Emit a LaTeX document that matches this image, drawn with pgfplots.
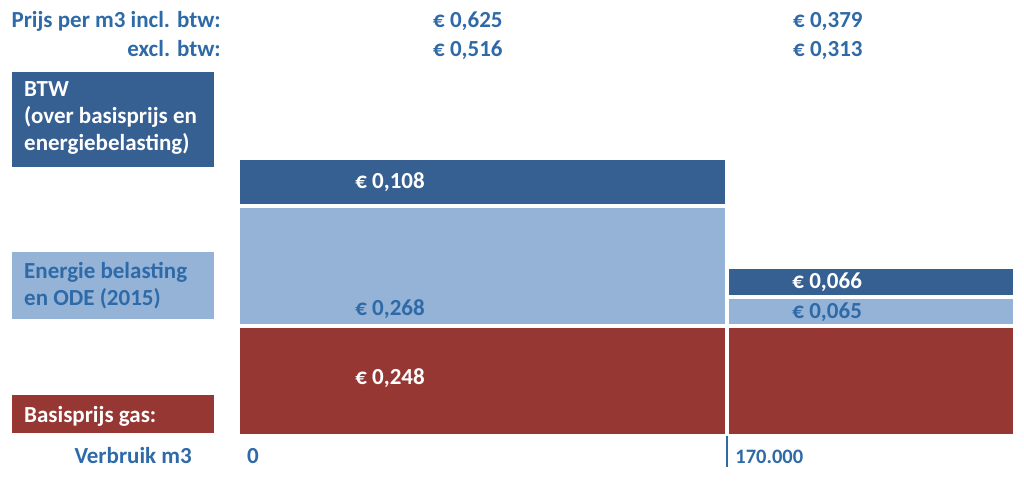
\documentclass[border=0pt]{standalone}
\usepackage{pgfplots}
\pgfplotsset{compat=1.18}
\usepackage{fontspec}
\setmainfont{Carlito}

\definecolor{btwblue}{RGB}{55,96,146}
\definecolor{ebblue}{RGB}{149,179,215}
\definecolor{gasred}{RGB}{150,55,52}
\definecolor{txtblue}{RGB}{46,106,168}

\begin{document}
\begin{tikzpicture}[font=\bfseries\fontsize{23}{27}\selectfont,
                    every node/.style={inner sep=0pt}]
\useasboundingbox (0,0) rectangle (1024pt,485pt);

% price rows at the top
\node[anchor=base east, txtblue] at (221pt,457pt) {Prijs per m3 incl. btw:};
\node[anchor=base east, txtblue] at (221pt,428pt) {excl. btw:};
\node[anchor=base west, txtblue] at (433pt,457pt) {€ 0,625};
\node[anchor=base west, txtblue] at (433pt,428pt) {€ 0,516};
\node[anchor=base west, txtblue] at (793pt,457pt) {€ 0,379};
\node[anchor=base west, txtblue] at (793pt,428pt) {€ 0,313};

% legend boxes on the left
\fill[btwblue] (12pt,318pt) rectangle (214pt,413pt);
\node[anchor=base west, white] at (24pt,388pt) {BTW};
\node[anchor=base west, white] at (24pt,361pt) {(over basisprijs en};
\node[anchor=base west, white] at (24pt,334pt) {energiebelasting)};

\fill[ebblue] (12pt,166pt) rectangle (214pt,233pt);
\node[anchor=base west, txtblue] at (24pt,207pt) {Energie belasting};
\node[anchor=base west, txtblue] at (24pt,180pt) {en ODE (2015)};

\fill[gasred] (12pt,52pt) rectangle (214pt,90pt);
\node[anchor=base west, white] at (24pt,63pt) {Basisprijs gas:};

% x axis text
\node[anchor=base east, txtblue] at (192pt,22pt) {Verbruik m3};
\node[anchor=base west, txtblue] at (247pt,22pt) {0};

\begin{axis}[
    at={(238pt,49pt)}, anchor=origin,
    scale only axis, width=777pt, height=278pt,
    xmin=0, xmax=270000,
    ymin=0, ymax=0.624,
    hide axis, clip=false,
    seg/.style={draw=white, line width=4pt}
]
% 0 - 170.000 m3
\addplot[seg, fill=gasred] coordinates {(0,0) (170000,0) (170000,0.248) (0,0.248)} -- cycle;
\addplot[seg, fill=ebblue] coordinates {(0,0.248) (170000,0.248) (170000,0.516) (0,0.516)} -- cycle;
\addplot[seg, fill=btwblue] coordinates {(0,0.516) (170000,0.516) (170000,0.624) (0,0.624)} -- cycle;
% above 170.000 m3
\addplot[seg, fill=gasred] coordinates {(170000,0) (270000,0) (270000,0.248) (170000,0.248)} -- cycle;
\addplot[seg, fill=ebblue] coordinates {(170000,0.248) (270000,0.248) (270000,0.313) (170000,0.313)} -- cycle;
\addplot[seg, fill=btwblue] coordinates {(170000,0.313) (270000,0.313) (270000,0.379) (170000,0.379)} -- cycle;

\node[anchor=west, white] at (axis cs:40700,0.570) {€ 0,108};
\node[anchor=base west, txtblue, yshift=10pt] at (axis cs:40700,0.248) {€ 0,268};
\node[anchor=west, white] at (axis cs:40700,0.130) {€ 0,248};
\node[anchor=west, white] at (axis cs:192600,0.346) {€ 0,066};
\node[anchor=base west, txtblue, yshift=-7pt] at (axis cs:192600,0.2805) {€ 0,065};

\draw[txtblue, line width=2.5pt] (axis cs:170000,0) -- ++(0pt,-31pt);
\node[anchor=base west, txtblue, font=\bfseries\fontsize{20.5}{24}\selectfont]
    at ([xshift=8pt,yshift=-27pt]axis cs:170000,0) {170.000};
\end{axis}
\end{tikzpicture}
\end{document}
